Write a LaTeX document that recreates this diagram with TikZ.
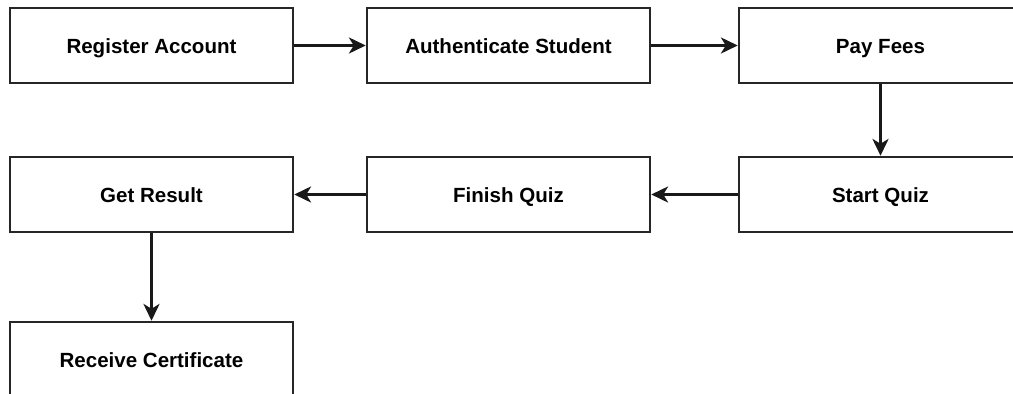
\documentclass[tikz,border=0pt]{standalone}
\usepackage{fontspec}
\setmainfont{Liberation Sans}
\usepackage{tikz}
\usetikzlibrary{arrows.meta}

\begin{document}
\begin{tikzpicture}[
    x=0.025cm, y=-0.025cm,
    stepbox/.style = {draw=black!85, line width=1.8pt, fill=white,
                      minimum width=7.075cm, minimum height=1.875cm,
                      inner sep=0pt, text height=12pt, text depth=0pt,
                      font=\fontsize{14.6}{17}\selectfont\bfseries},
    flow/.style    = {draw=black!90, line width=1.6pt,
                      -{Stealth[length=12pt, width=11.5pt, inset=3.5pt]}}
  ]
  \useasboundingbox (0,0) rectangle (1013,394);
  \clip (0,0) rectangle (1013,394);

  % first row
  \node[stepbox] (register) at (151.5, 45.5)  {Register Account};
  \node[stepbox] (auth)     at (508.5, 45.5)  {Authenticate Student};
  \node[stepbox] (fees)     at (880.5, 45.5)  {Pay Fees};

  % second row, right to left
  \node[stepbox] (start)    at (880.5, 194.5) {Start Quiz};
  \node[stepbox] (finish)   at (508.5, 194.5) {Finish Quiz};
  \node[stepbox] (result)   at (151.5, 194.5) {Get Result};

  \node[stepbox] (cert)     at (151.5, 359.5) {Receive Certificate};

  \draw[flow] (register) -- (auth);
  \draw[flow] (auth) -- (fees);
  \draw[flow] (fees) -- (start);
  \draw[flow] (start) -- (finish);
  \draw[flow] (finish) -- (result);
  \draw[flow] (result) -- (cert);
\end{tikzpicture}
\end{document}
